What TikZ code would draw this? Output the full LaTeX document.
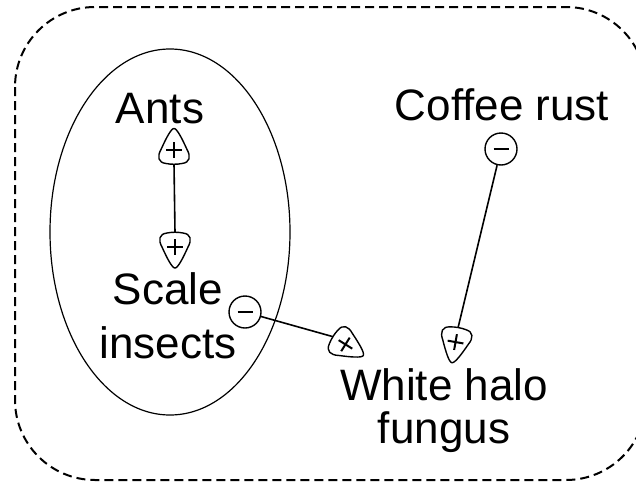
\documentclass[tikz,border=0pt]{standalone}
\usepackage{fontspec}
\setmainfont{Liberation Sans}
\usetikzlibrary{calc,shapes.geometric}
\begin{document}
\begin{tikzpicture}[x=1pt,y=-1pt,
  lbl/.style={font=\fontsize{44}{54}\selectfont, inner sep=0pt, align=center},
  signline/.style={line width=2pt},
  conn/.style={line width=1.6pt},
  minuscirc/.style={circle, draw, line width=1.4pt, fill=white, minimum size=32pt, inner sep=0pt},
  border/.style={line width=2pt, dash pattern=on 9pt off 5pt, rounded corners=80pt},
  pics/plusmark/.style={code={
     \draw[line width=1.4pt, fill=white] (0,18) .. controls (-3,18) and (-8,8) .. (-13,-3)
        .. controls (-17,-10) and (-16,-16) .. (-8,-17)
        .. controls (-3,-18) and (3,-18) .. (8,-17)
        .. controls (16,-16) and (17,-10) .. (13,-3)
        .. controls (8,8) and (3,18) .. (0,18) -- cycle;
     \draw[signline] (-8,-3) -- (8,-3) (0,-11) -- (0,5);
     \coordinate (-base) at (0,-17.5);
  }}
]
\clip (0,0) rectangle (636,482);
\draw[border] (15,7) rectangle (646,480);
\node[draw, ellipse, line width=1.2pt, minimum width=240pt, minimum height=366pt, inner sep=0pt] (grp) at (170,232) {};

\node[lbl, anchor=base] (ants) at (160,123) {Ants};
\node[lbl, anchor=base] (rust) at (502,120) {Coffee rust};
\node[lbl, anchor=base] (scale) at (168,358) {Scale\\insects};
\node[lbl, anchor=base, font=\fontsize{44}{43}\selectfont] (fungus) at (444,443) {White halo\\fungus};

\pic[rotate=180] (am) at (174,146.5) {plusmark};
\pic (sm) at (175,250) {plusmark};
\pic[rotate=-10] (fm1) at (455,345) {plusmark};
\pic[rotate=58] (fm2) at (348,346) {plusmark};
\node[minuscirc] (sim) at (245,312) {\rule{15pt}{2pt}};
\node[minuscirc] (crm) at (501,149) {\rule{15pt}{2pt}};

\draw[conn] (am-base) -- (sm-base);
\draw[conn] (sim) -- (fm2-base);
\draw[conn] (crm) -- (fm1-base);
\end{tikzpicture}
\end{document}
